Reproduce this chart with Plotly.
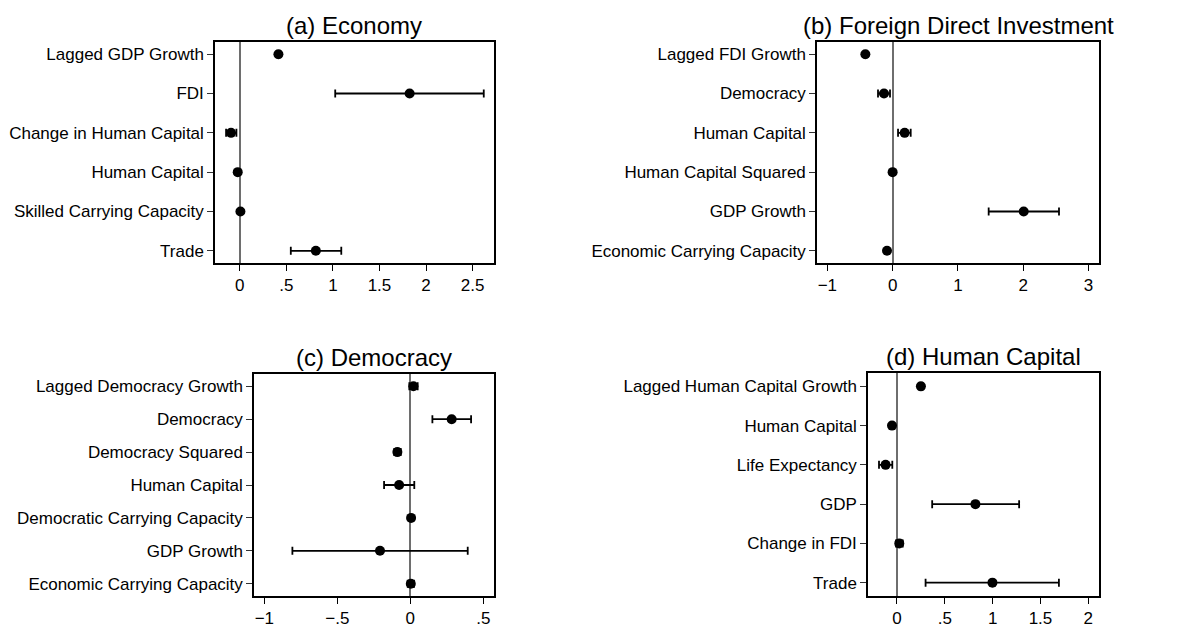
import plotly.graph_objects as go

# ---------------- data ----------------
a_labels = ["Lagged GDP Growth", "FDI", "Change in Human Capital", "Human Capital",
            "Skilled Carrying Capacity", "Trade"]
a_coef = [0.415, 1.824, -0.094, -0.022, 0.007, 0.817]
a_lo = [0.395, 1.025, -0.147, -0.032, -0.003, 0.548]
a_hi = [0.435, 2.620, -0.036, -0.012, 0.017, 1.090]
a_ticks = [0, 0.5, 1, 1.5, 2, 2.5]
a_ticktext = ["0", ".5", "1", "1.5", "2", "2.5"]

b_labels = ["Lagged FDI Growth", "Democracy", "Human Capital", "Human Capital Squared",
            "GDP Growth", "Economic Carrying Capacity"]
b_coef = [-0.418, -0.132, 0.185, 0.000, 2.009, -0.086]
b_lo = [-0.440, -0.224, 0.083, -0.010, 1.472, -0.100]
b_hi = [-0.396, -0.040, 0.277, 0.010, 2.550, -0.072]
b_ticks = [-1, 0, 1, 2, 3]
b_ticktext = ["\u22121", "0", "1", "2", "3"]

c_labels = ["Lagged Democracy Growth", "Democracy", "Democracy Squared", "Human Capital",
            "Democratic Carrying Capacity", "GDP Growth", "Economic Carrying Capacity"]
c_coef = [0.021, 0.283, -0.089, -0.077, 0.005, -0.208, 0.003]
c_lo = [-0.007, 0.151, -0.110, -0.180, 0.000, -0.808, -0.018]
c_hi = [0.050, 0.416, -0.066, 0.027, 0.010, 0.393, 0.025]
c_ticks = [-1, -0.5, 0, 0.5]
c_ticktext = ["\u22121", "\u2212.5", "0", ".5"]

d_labels = ["Lagged Human Capital Growth", "Human Capital", "Life Expectancy", "GDP",
            "Change in FDI", "Trade"]
d_coef = [0.250, -0.052, -0.119, 0.820, 0.024, 0.998]
d_lo = [0.230, -0.062, -0.188, 0.368, -0.010, 0.299]
d_hi = [0.270, -0.042, -0.049, 1.277, 0.060, 1.693]
d_ticks = [0, 0.5, 1, 1.5, 2]
d_ticktext = ["0", ".5", "1", "1.5", "2"]

titles = ["(a) Economy", "(b) Foreign Direct Investment", "(c) Democracy", "(d) Human Capital"]

# ---------------- layout geometry ----------------
W, H = 1202, 626
OFF = 8  # page body margin: figure origin sits 8px in from the window corner
panels = [
    dict(lab=a_labels, coef=a_coef, lo=a_lo, hi=a_hi, tv=a_ticks, tt=a_ticktext,
         xr=[-0.266, 2.73], px=(215, 494), py=(42, 263), pad=0.31),
    dict(lab=b_labels, coef=b_coef, lo=b_lo, hi=b_hi, tv=b_ticks, tt=b_ticktext,
         xr=[-1.159, 3.163], px=(817, 1099), py=(42, 263), pad=0.31),
    dict(lab=c_labels, coef=c_coef, lo=c_lo, hi=c_hi, tv=c_ticks, tt=c_ticktext,
         xr=[-1.071, 0.573], px=(254, 494), py=(374, 596), pad=0.375),
    dict(lab=d_labels, coef=d_coef, lo=d_lo, hi=d_hi, tv=d_ticks, tt=d_ticktext,
         xr=[-0.303, 2.112], px=(868, 1099), py=(373, 596), pad=0.34),
]

FONT = "Liberation Sans, Arial, Helvetica, sans-serif"
fig = go.Figure()
annotations = []
for i, p in enumerate(panels):
    n = i + 1
    xa = "x" if n == 1 else f"x{n}"
    ya = "y" if n == 1 else f"y{n}"
    plus = [h - c for h, c in zip(p["hi"], p["coef"])]
    minus = [c - l for c, l in zip(p["coef"], p["lo"])]
    fig.add_trace(go.Scatter(
        x=p["coef"], y=p["lab"], mode="markers", xaxis=xa, yaxis=ya,
        marker=dict(color="black", size=10),
        error_x=dict(type="data", symmetric=False, array=plus, arrayminus=minus,
                     color="black", thickness=1.8, width=4),
        showlegend=False, cliponaxis=False,
    ))
    nrows = len(p["lab"])
    pad = p["pad"]
    xdom = [(p["px"][0] - OFF) / W, (p["px"][1] - OFF) / W]
    ydom = [1 - (p["py"][1] - OFF) / H, 1 - (p["py"][0] - OFF) / H]
    xkey = "xaxis" if n == 1 else f"xaxis{n}"
    ykey = "yaxis" if n == 1 else f"yaxis{n}"
    fig.layout[xkey] = dict(
        domain=xdom, anchor=ya, range=p["xr"], tickvals=p["tv"], ticktext=p["tt"],
        showgrid=False, zeroline=True, zerolinecolor="#6e6e6e", zerolinewidth=1.5,
        showline=True, mirror=True, linecolor="black", linewidth=1.5,
        ticks="outside", ticklen=6, tickwidth=1.3, tickcolor="black",
        tickfont=dict(family=FONT, size=17, color="black"),
    )
    fig.layout[ykey] = dict(
        domain=ydom, anchor=xa, type="category", categoryorder="array",
        categoryarray=p["lab"], range=[nrows - 1 + pad, -pad],
        showgrid=False, zeroline=False,
        showline=True, mirror=True, linecolor="black", linewidth=1.5,
        ticks="outside", ticklen=6, tickwidth=1.3, tickcolor="#333333",
        tickfont=dict(family=FONT, size=17, color="black"),
    )
    annotations.append(dict(
        text=titles[i], xref="paper", yref="paper",
        x=(xdom[0] + xdom[1]) / 2, y=ydom[1], xanchor="center", yanchor="bottom",
        yshift=1, showarrow=False,
        font=dict(family=FONT, size=24, color="black"),
    ))

fig.update_layout(
    width=W, height=H, margin=dict(l=0, r=0, t=0, b=0),
    paper_bgcolor="white", plot_bgcolor="white",
    annotations=annotations, font=dict(family=FONT, color="black"),
)
fig.write_html("out.html")
